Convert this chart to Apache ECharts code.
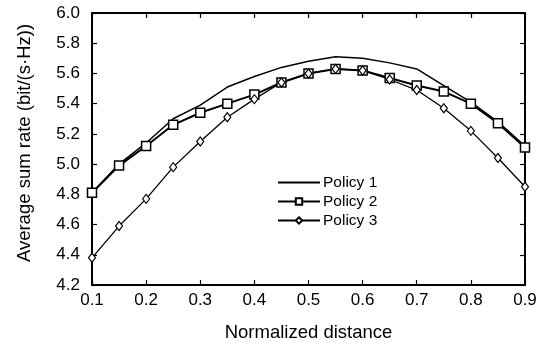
<!DOCTYPE html>
<html>
<head>
<meta charset="utf-8">
<script src="https://cdn.jsdelivr.net/npm/echarts@6/dist/echarts.min.js"></script>
<style>html,body{margin:0;padding:0;background:#fff}#c{width:543px;height:347px}</style>
</head>
<body>
<div id="c"></div>
<script>
var distances = [0.1,0.15,0.2,0.25,0.3,0.35,0.4,0.45,0.5,0.55,0.6,0.65,0.7,0.75,0.8,0.85,0.9];
var policy1 = [4.81,5.00,5.14,5.30,5.39,5.51,5.58,5.64,5.68,5.71,5.70,5.67,5.63,5.52,5.41,5.28,5.12];
var policy2 = [4.81,4.99,5.12,5.26,5.34,5.40,5.46,5.54,5.60,5.63,5.62,5.57,5.52,5.48,5.40,5.27,5.11];
var policy3 = [4.38,4.59,4.77,4.98,5.15,5.31,5.43,5.54,5.60,5.63,5.62,5.56,5.49,5.37,5.22,5.04,4.85];
var seriesNames = ['Policy 1','Policy 2','Policy 3'];

function pairs(vals){ return distances.map(function(d,i){ return [d, vals[i]]; }); }
var font = 'Liberation Sans, Arial, sans-serif';
var chart = echarts.init(document.getElementById('c'), null, {renderer:'canvas'});
var axisLine = {show:true, lineStyle:{color:'#000', width:2}};
var tick = {show:true, inside:true, length:5, lineStyle:{color:'#000', width:1.2}};
chart.setOption({
  animation:false,
  backgroundColor:'#fff',
  grid:{left:92, right:18, top:13, bottom:61, containLabel:false},
  legend:{
    orient:'vertical', left:277, top:174, padding:0,
    itemWidth:42, itemHeight:8, itemGap:2,
    textStyle:{fontFamily:font, fontSize:15.5, color:'#000', lineHeight:17, padding:[0,0,0,-2]},
    data:[
      {name:seriesNames[0], itemStyle:{opacity:0}},
      {name:seriesNames[1]},
      {name:seriesNames[2]}
    ]
  },
  xAxis:[{
    type:'value', min:0.1, max:0.9, interval:0.1, position:'bottom',
    name:'Normalized distance', nameLocation:'middle', nameGap:38,
    nameTextStyle:{fontFamily:font, fontSize:18.5, color:'#000'},
    axisLine:axisLine, axisTick:tick, splitLine:{show:false},
    axisLabel:{fontFamily:font, fontSize:17, color:'#000', margin:7,
      formatter:function(v){return v.toFixed(1);}}
  },{
    type:'value', min:0.1, max:0.9, interval:0.1, position:'top',
    axisLine:axisLine, axisTick:tick, splitLine:{show:false}, axisLabel:{show:false}
  }],
  yAxis:[{
    type:'value', min:4.2, max:6.0, interval:0.2, position:'left',
    name:'Average sum rate (bit/(s\u00b7Hz))', nameLocation:'middle', nameGap:58,
    nameTextStyle:{fontFamily:font, fontSize:18.5, color:'#000', padding:[0,0,0,12]},
    axisLine:axisLine, axisTick:tick, splitLine:{show:false},
    axisLabel:{fontFamily:font, fontSize:17, color:'#000', margin:12,
      formatter:function(v){return v.toFixed(1);}}
  },{
    type:'value', min:4.2, max:6.0, interval:0.2, position:'right',
    axisLine:axisLine, axisTick:tick, splitLine:{show:false}, axisLabel:{show:false}
  }],
  series:[{
    name:seriesNames[0], type:'line', data:pairs(policy1),
    symbol:'none', lineStyle:{color:'#000', width:1.5}, itemStyle:{color:'#000'}
  },{
    name:seriesNames[1], type:'line', data:pairs(policy2),
    symbol:'rect', symbolSize:9, showAllSymbol:true,
    lineStyle:{color:'#000', width:2}, itemStyle:{color:'#fff', borderColor:'#000', borderWidth:1.5}
  },{
    name:seriesNames[2], type:'line', data:pairs(policy3),
    symbol:'diamond', symbolSize:[7,9], showAllSymbol:true,
    lineStyle:{color:'#000', width:1.3}, itemStyle:{color:'#fff', borderColor:'#000', borderWidth:1.2}
  }]
});
</script>
</body>
</html>
